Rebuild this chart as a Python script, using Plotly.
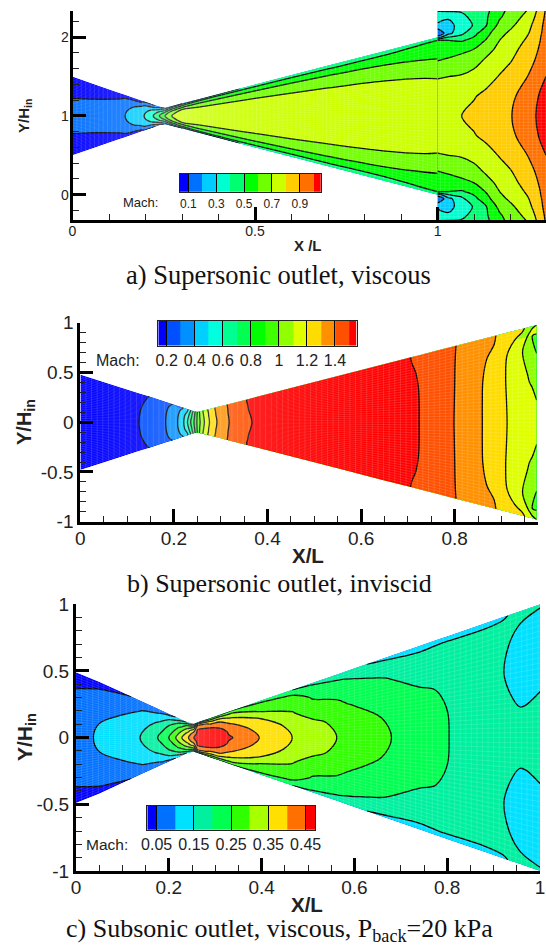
import plotly.graph_objects as go

W, H = 546, 947
ETA = [0, .25, .5, .75, .9, 1]

# ---------- Panel a: nozzle ----------
a_x = [0, .06, .121, .144, .187, .196, .221, .238, .253, .272, .3, .35, .5, .7, .85, 1, 1.002]
a_h = [.5, .404, .306, .27, .2, .186, .146, .119, .104, .126, .16, .22, .4, .64, .82, 1, 1]
a_mach = [
    [.15, .13, .092, .07, .06, .05],
    [.16, .145, .103, .075, .065, .055],
    [.18, .17, .14, .09, .075, .06],
    [.2, .19, .16, .11, .09, .07],
    [.28, .265, .23, .16, .09, .08],
    [.3, .285, .25, .19, .12, .09],
    [.4, .36, .31, .2, .13, .09],
    [.5, .46, .39, .27, .19, .12],
    [.6, .56, .48, .36, .28, .2],
    [.7, .69, .6, .47, .35, .25],
    [.73, .725, .705, .55, .45, .3],
    [.74, .73, .71, .6, .5, .35],
    [.76, .74, .72, .63, .54, .42],
    [.77, .75, .72, .63, .54, .42],
    [.77, .75, .715, .62, .53, .44],
    [.77, .74, .695, .59, .53, .48],
    [.77, .74, .695, .59, .53, .48],
]
# Panel a: plume outside the exit
p_x = [1.0, 1.03, 1.066, 1.1, 1.134, 1.17, 1.2, 1.25, 1.297]
p_y = [0, .25, .5, .7, .85, .96, 1.0, 1.05, 1.15, 1.25, 1.335]
p_mach = [
    [.77, .74, .695, .6, .54, .51, .25, .1, .28, .34, .405],
    [.77, .745, .7, .61, .57, .5, .4, .27, .27, .31, .41],
    [.8, .76, .71, .63, .58, .49, .43, .38, .34, .37, .41],
    [.82, .795, .74, .66, .6, .53, .505, .47, .41, .43, .46],
    [.84, .82, .77, .72, .66, .61, .59, .57, .5, .49, .48],
    [.87, .86, .805, .77, .73, .7, .69, .67, .63, .59, .57],
    [.895, .88, .85, .795, .77, .74, .73, .72, .68, .65, .63],
    [.965, .95, .905, .87, .84, .82, .81, .8, .775, .74, .71],
    [1.05, 1.04, 1.0, .96, .95, .94, .94, .935, .93, .92, .91],
]
# ---------- Panel b ----------
b_x = [0, .06, .1255, .147, .1824, .197, .208, .22, .229, .236, .243, .25, .256, .265, .276, .292,
       .318, .36, .45, .55, .65, .706, .724, .76, .8, .859, .888, .912, .945, .96, .966, .975]
b_h = [.48, .39, .29, .26, .205, .183, .166, .147, .133, .122, .111, .105, .11, .12, .133, .152,
       .184, .234, .343, .464, .585, .652, .674, .717, .766, .837, .872, .901, .94, .96, .965, .98]
b_mach = [
    [.125, .124, .121, .116, .112, .11],
    [.15, .149, .146, .14, .135, .132],
    [.2, .198, .192, .18, .172, .16],
    [.238, .235, .228, .217, .207, .2],
    [.3, .298, .293, .285, .276, .271],
    [.356, .352, .342, .325, .31, .3],
    [.4, .397, .387, .37, .355, .348],
    [.486, .48, .464, .436, .41, .4],
    [.6, .585, .56, .51, .49, .478],
    [.7, .69, .66, .64, .61, .6],
    [.8, .795, .78, .765, .75, .74],
    [.915, .913, .91, .905, .902, .9],
    [1.0, 1.005, 1.015, 1.02, 1.03, 1.03],
    [1.1, 1.105, 1.115, 1.125, 1.13, 1.13],
    [1.2, 1.205, 1.215, 1.22, 1.23, 1.23],
    [1.3, 1.305, 1.315, 1.32, 1.325, 1.325],
    [1.4, 1.403, 1.408, 1.41, 1.413, 1.415],
    [1.495, 1.497, 1.5, 1.505, 1.51, 1.51],
    [1.56, 1.56, 1.55, 1.54, 1.53, 1.53],
    [1.58, 1.575, 1.57, 1.56, 1.55, 1.55],
    [1.56, 1.56, 1.55, 1.54, 1.53, 1.52],
    [1.53, 1.53, 1.525, 1.515, 1.505, 1.5],
    [1.5, 1.5, 1.498, 1.49, 1.47, 1.46],
    [1.45, 1.45, 1.445, 1.44, 1.43, 1.425],
    [1.398, 1.399, 1.4, 1.401, 1.402, 1.403],
    [1.3, 1.3, 1.302, 1.315, 1.335, 1.345],
    [1.245, 1.25, 1.255, 1.27, 1.295, 1.3],
    [1.2, 1.197, 1.192, 1.2, 1.24, 1.255],
    [1.15, 1.145, 1.125, 1.1, 1.16, 1.22],
    [1.13, 1.12, 1.09, 1.06, 1.07, 1.15],
    [1.125, 1.115, 1.08, 1.02, 1.0, 1.13],
    [1.12, 1.098, 1.05, .99, .995, 1.1],
]
# ---------- Panel c ----------
c_x = [0, .05, .1, .138, .176, .2, .215, .228, .24, .254, .262, .275, .29, .31, .33, .338, .395,
       .466, .51, .562, .6, .68, .741, .784, .804, .88, .92, .957, 1]
c_h = [.49, .42, .34, .279, .218, .18, .156, .135, .116, .105, .115, .13, .148, .172, .196, .206, .274,
       .359, .412, .474, .52, .616, .689, .741, .765, .856, .904, .948, 1]
c_mach = [
    [.085, .08, .068, .05, .04, .03],
    [.105, .1, .085, .068, .045, .035],
    [.125, .115, .1, .08, .058, .045],
    [.15, .138, .118, .097, .075, .055],
    [.2, .18, .155, .115, .09, .07],
    [.25, .225, .2, .15, .11, .08],
    [.3, .27, .235, .185, .125, .1],
    [.35, .32, .275, .215, .16, .12],
    [.39, .365, .32, .26, .2, .15],
    [.45, .43, .38, .3, .22, .17],
    [.465, .46, .452, .42, .34, .22],
    [.475, .47, .455, .41, .33, .25],
    [.485, .475, .45, .385, .31, .25],
    [.478, .468, .44, .385, .31, .25],
    [.455, .443, .41, .35, .3, .25],
    [.45, .43, .4, .345, .3, .25],
    [.4, .385, .355, .29, .26, .24],
    [.35, .338, .305, .275, .247, .2],
    [.325, .316, .27, .245, .215, .19],
    [.3, .288, .26, .235, .202, .17],
    [.283, .275, .245, .22, .19, .155],
    [.25, .241, .226, .195, .165, .14],
    [.225, .221, .205, .18, .157, .135],
    [.207, .206, .198, .178, .16, .14],
    [.2, .199, .193, .178, .16, .14],
    [.185, .183, .175, .168, .158, .142],
    [.178, .165, .151, .155, .155, .148],
    [.172, .149, .14, .14, .15, .155],
    [.17, .153, .145, .14, .145, .152],
]
# ---------- Colour levels ----------
a_levels = (.1, 1.0, .1)
a_colors = ["#0000ff", "#0070ff", "#00ccff", "#00ffd0", "#00ff70", "#00ff00", "#70ff00", "#ccff00",
            "#ffcc00", "#ff7000", "#ff0000"]
a_bar_edges = [.04, .1, .2, .3, .4, .5, .6, .7, .8, .9, 1.0, 1.05]
a_bar_ticks = [.1, .3, .5, .7, .9]
a_bar_text = ["0.1", "0.3", "0.5", "0.7", "0.9"]

b_levels = (.2, 1.5, .1)
b_colors = ["#0000ff", "#0050ff", "#0090ff", "#00d0ff", "#00ffdd", "#00ff90", "#00ff50", "#00ff00",
            "#40ff00", "#90ff00", "#dfff00", "#ffdc00", "#ff9000", "#ff5000", "#ff0000"]
b_bar_edges = [.14, .2, .3, .4, .5, .6, .7, .8, .9, 1.0, 1.1, 1.2, 1.3, 1.4, 1.5, 1.555]
b_bar_ticks = [.2, .4, .6, .8, 1.0, 1.2, 1.4]
b_bar_text = ["0.2", "0.4", "0.6", "0.8", "1", "1.2", "1.4"]

c_levels = (.05, .45, .05)
c_colors = ["#0000ff", "#0070ff", "#00e0ff", "#00f0a0", "#00ff50", "#30ff00", "#a8ff00", "#ffe000",
            "#ff7000", "#ff0000"]
c_bar_edges = [.025, .05, .1, .15, .2, .25, .3, .35, .4, .45, .475]
c_bar_ticks = [.05, .15, .25, .35, .45]
c_bar_text = ["0.05", "0.15", "0.25", "0.35", "0.45"]

a_xticks, a_xtext = [0, .5, 1], ["0", "0.5", "1"]
a_yticks, a_ytext = [0, 1, 2], ["0", "1", "2"]
b_xticks, b_xtext = [0, .2, .4, .6, .8], ["0", "0.2", "0.4", "0.6", "0.8"]
c_xticks, c_xtext = [0, .2, .4, .6, .8, 1], ["0", "0.2", "0.4", "0.6", "0.8", "1"]
bc_yticks, bc_ytext = [-1, -.5, 0, .5, 1], ["-1", "-0.5", "0", "0.5", "1"]

TEXT = "#222222"
SANS = "Liberation Sans, Arial, sans-serif"
SERIF = "Liberation Serif, Times New Roman, serif"
MESH = "rgba(255,255,255,0.13)"


def dom_x(p0, p1):
    return [p0 / W, p1 / W]


def dom_y(p0, p1):
    return [1 - p1 / H, 1 - p0 / H]


def steps(colors):
    n = len(colors)
    return [[i / (n - 1), c] for i, c in enumerate(colors)]


fig = go.Figure()


def add_field(cid, xs, bs, halves, center, rows, levels, colors, ax, ay, da, db):
    """Field rows are x stations by half-span positions; the lower half mirrors the upper."""
    b_full = [-v for v in bs[::-1]] + list(bs[1:])
    cx = [list(xs) for _ in b_full]
    cy = [[center + h * e for h in halves] for e in b_full]
    z = [[(r[::-1] + r[1:])[j] for r in rows] for j in range(len(b_full))]
    base = dict(showline=False, showticklabels="none", startline=False, endline=False,
                minorgridcount=0, smoothing=0, showgrid=True,
                gridcolor=MESH, gridwidth=1, tickmode="linear")
    fig.add_trace(go.Carpet(carpet=cid, a=list(xs), b=b_full, x=cx, y=cy,
                            aaxis=dict(base, dtick=da, tick0=0), baxis=dict(base, dtick=db, tick0=0),
                            xaxis=ax, yaxis=ay))
    fig.add_trace(go.Contourcarpet(
        carpet=cid, a=list(xs), b=b_full, z=z, autocontour=False, showscale=False,
        contours=dict(start=levels[0], end=levels[1], size=levels[2], coloring="fill", showlines=True),
        colorscale=steps(colors), line=dict(color="black", width=1.3), xaxis=ax, yaxis=ay))


add_field("a1", a_x, ETA, a_h, 1.0, a_mach, a_levels, a_colors, "x", "y", .012, .04)
add_field("a2", p_x, p_y, [1.0] * len(p_x), 1.0, p_mach, a_levels, a_colors, "x", "y", .012, .04)
add_field("b1", b_x, ETA, b_h, 0.0, b_mach, b_levels, b_colors, "x2", "y2", .012, .04)
add_field("c1", c_x, ETA, c_h, 0.0, c_mach, c_levels, c_colors, "x3", "y3", .012, .04)


def add_bar(edges, colors, ax, ay):
    fig.add_trace(go.Heatmap(x=edges, y=[0, 1], z=[list(range(len(colors)))], zmin=0, zmax=len(colors) - 1,
                             colorscale=steps(colors), showscale=False, xaxis=ax, yaxis=ay))


add_bar(a_bar_edges, a_colors, "x4", "y4")
add_bar(b_bar_edges, b_colors, "x5", "y5")
add_bar(c_bar_edges, c_colors, "x6", "y6")


def main_axis(dom, rng, ticks, text, minor, size, standoff, anchor):
    return dict(domain=dom, range=rng, showgrid=False, zeroline=False, showline=True, linecolor="black",
                linewidth=3, ticks="inside", ticklen=13, tickwidth=3, tickcolor="black",
                tickmode="array", tickvals=ticks, ticktext=text,
                minor=dict(ticks="inside", ticklen=6, tickwidth=1, tickcolor="#222", dtick=minor, tick0=0, showgrid=False),
                tickfont=dict(family=SANS, size=size, color=TEXT), ticklabelstandoff=standoff,
                automargin=False, anchor=anchor)


def bar_axes(dom_xx, dom_yy, edges, ticks, text, size, hgt, ax_y, ax_x, standoff):
    xa = dict(domain=dom_xx, range=[edges[0], edges[-1]], showgrid=False, zeroline=False, showline=True,
              mirror=True, linecolor="#222", linewidth=1, tickmode="array", tickvals=ticks, ticktext=text,
              ticks="inside", ticklen=hgt, tickwidth=1, tickcolor="black",
              tickfont=dict(family=SANS, size=size, color=TEXT), ticklabelstandoff=standoff, anchor=ax_y, automargin=False)
    ya = dict(domain=dom_yy, range=[0, 1], showgrid=False, zeroline=False, showline=True, mirror=True,
              linecolor="#222", linewidth=1, ticks="", showticklabels=False, automargin=False, anchor=ax_x)
    return xa, ya


xa1 = main_axis(dom_x(72.5, 546), [0, 1.297], a_xticks, a_xtext, .1, 14, -4, "y")
ya1 = main_axis(dom_y(11, 220), [-.321, 2.333], a_yticks, a_ytext, .2, 14, -2, "x")
xa2 = main_axis(dom_x(80.3, 538), [0, .978], b_xticks, b_xtext, .05, 19, -3, "y2")
ya2 = main_axis(dom_y(322.7, 521.7), [-1, 1], bc_yticks, bc_ytext, .1, 19, 0, "x2")
xa3 = main_axis(dom_x(76, 540), [0, 1], c_xticks, c_xtext, .05, 19, -3, "y3")
ya3 = main_axis(dom_y(604.3, 871), [-1, 1], bc_yticks, bc_ytext, .1, 19, 0, "x3")

xb1, yb1 = bar_axes(dom_x(180, 320.7), dom_y(174, 191.7), a_bar_edges, a_bar_ticks, a_bar_text, 12, 18, "y4", "x4", 1)
xb2, yb2 = bar_axes(dom_x(158.3, 356.7), dom_y(320.7, 345.7), b_bar_edges, b_bar_ticks, b_bar_text, 16, 25, "y5", "x5", 0)
xb3, yb3 = bar_axes(dom_x(147.3, 315), dom_y(805.7, 830), c_bar_edges, c_bar_ticks, c_bar_text, 16, 24, "y6", "x6", 0)


def note(text, px, py, size, family=SANS, rotate=0, color=TEXT):
    return dict(text=text, x=px / W, y=1 - py / H, xref="paper", yref="paper", xanchor="center", yanchor="middle",
                showarrow=False, textangle=rotate, font=dict(family=family, size=size, color=color))


notes = [
    note("<b>X /L</b>", 308, 245, 15),
    note("<b>Y/H<sub>in</sub></b>", 24, 116, 15, rotate=-90),
    note("Mach:", 140, 202, 13),
    note("a) Supersonic outlet, viscous", 278, 275, 26.5, SERIF, color="#111"),
    note("<b>X/L</b>", 308, 555, 20.5),
    note("<b>Y/H<sub>in</sub></b>", 26, 422, 20, rotate=-90),
    note("Mach:", 118, 360.7, 16),
    note("b) Supersonic outlet, inviscid", 279, 583, 26, SERIF, color="#111"),
    note("<b>X/L</b>", 307, 904, 20.5),
    note("<b>Y/H<sub>in</sub></b>", 26, 737, 21, rotate=-90),
    note("Mach:", 107, 844, 15.5),
    note("c) Subsonic outlet, viscous, P<sub>back</sub>=20 kPa", 279, 930, 26, SERIF, color="#111"),
]

fig.update_layout(
    width=W, height=H, margin=dict(l=0, r=0, t=0, b=0), paper_bgcolor="white", plot_bgcolor="rgba(0,0,0,0)",
    showlegend=False, annotations=notes,
    xaxis=xa1, yaxis=ya1, xaxis2=xa2, yaxis2=ya2, xaxis3=xa3, yaxis3=ya3,
    xaxis4=xb1, yaxis4=yb1, xaxis5=xb2, yaxis5=yb2, xaxis6=xb3, yaxis6=yb3,
)
fig.write_html("out.html", config={"displayModeBar": False},
               post_script="document.body.style.margin='0';document.documentElement.style.overflow='hidden';")
